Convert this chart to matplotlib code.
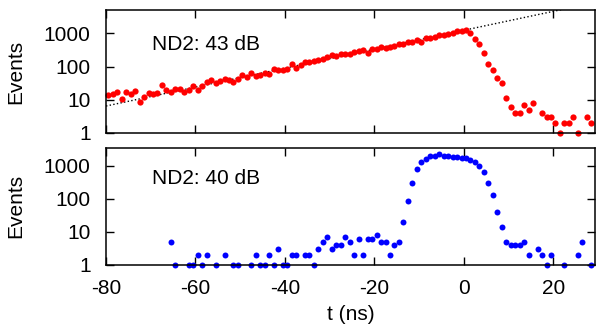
import numpy as np
import matplotlib
matplotlib.use("Agg")
import matplotlib.pyplot as plt
from matplotlib.ticker import LogLocator, NullFormatter

plt.rcParams['font.family'] = ['Liberation Sans', 'DejaVu Sans']
plt.rcParams['font.size'] = 15

# top panel: ND2 43 dB (red)
t_red = [-79.5 + k for k in range(96)] + [17.5, 18.5, 19.5, 20.5, 21.5, 22.5, 23.5, 24.5, 25.5, 27.5, 28.5]
n_red = [14, 15, 17, 10.5, 17, 14.5, 18, 8.7, 11.7, 15.5,
         15, 15.5, 27.5, 19.5, 17.4, 20.4, 21.4, 16.6, 19.5, 25.7,
         19.5, 25.7, 34, 39, 31, 36, 42, 39, 35, 43,
         55, 49, 62, 51, 55, 65, 59, 87, 81, 81,
         87, 115, 91, 110, 138, 138, 148, 162, 174, 195,
         219, 204, 234, 245, 234, 269, 295,
         309, 263, 347, 331, 389, 372, 389, 417, 490, 490,
         550, 550, 617, 550, 724, 724, 776, 871, 912, 977,
         1050, 1150, 1175, 1230, 1050, 692, 468, 263, 115, 78,
         46, 32, 11.5, 6, 4, 4, 7, 5, 8,
         4, 3, 3, 2, 1, 2, 2, 3, 1, 3, 2]
n_red = n_red[:len(t_red) - 11] + n_red[-11:]
t_red = t_red[:len(n_red) - 11] + t_red[-11:]

# exponential fit (dotted): log10(N) = fit_a + fit_b * t
fit_a = 3.09
fit_b = 0.0285

# bottom panel: ND2 40 dB (blue)
t_blue = [-65.5, -64.5, -61.5, -60.5, -59.5, -58.5, -57.5, -55.5, -53.5, -51.5,
          -50.5, -47.5, -46.5, -45.5, -44.5, -43.5, -42.5, -41.5, -40.5, -39.5,
          -38.5, -37.5, -35.5, -34.5, -33.5, -32.5, -31.5, -30.5, -29.5, -28.5,
          -27.5, -26.5, -25.5, -24.5, -23.5, -22.5, -21.5, -20.5, -19.5, -18.5,
          -17.5, -16.5, -15.5, -14.5, -13.5, -12.5, -11.5, -10.5, -9.5, -8.5,
          -7.5, -6.5, -5.5, -4.5, -3.5, -2.5, -1.5, -0.5, 0.5, 1.5,
          2.5, 3.5, 4.5, 5.5, 6.5, 7.5, 8.5, 9.5, 10.5, 11.5,
          12.5, 13.5, 14.5, 16.5, 17.5, 18.5, 19.5, 22.5, 25.5, 26.5, 28.5]
n_blue = [5, 1, 1, 1, 2, 1, 2, 1, 2, 1,
          1, 1, 2, 1, 1, 2, 1, 3, 1, 1,
          2, 2, 2, 2, 1, 3, 5, 7, 3, 4,
          4, 7, 5, 2, 6, 2, 6, 6, 8, 5,
          5, 2, 4, 5, 20, 87, 310, 810, 1290, 1620,
          2000, 2050, 2250, 2000, 2000, 1900, 1900, 1780, 1700, 1520,
          1350, 1020, 630, 300, 132, 41, 14.5, 5, 4, 4,
          4, 5, 2, 3, 2, 1, 2, 1, 2, 5, 1]

xticks = [-80, -60, -40, -20, 0, 20]

fig = plt.figure(figsize=(5.99, 3.25), dpi=100)
ax1 = fig.add_axes([0.177, 0.591, 0.816, 0.378])
ax2 = fig.add_axes([0.177, 0.185, 0.816, 0.36])

tf = np.linspace(-80, 30, 200)
ax1.plot(tf, 10 ** (fit_a + fit_b * tf), ':', color='black', lw=1.0)
ax1.plot(t_red, n_red, 'o', color='#ff0000', ms=4.5, mec='none', clip_on=False)
ax2.plot(t_blue, n_blue, 'o', color='#0000ff', ms=4.3, mec='none', clip_on=False)

ax1.text(0.094, 0.72, 'ND2: 43 dB', transform=ax1.transAxes, va='center')
ax2.text(0.094, 0.74, 'ND2: 40 dB', transform=ax2.transAxes, va='center')

for ax, top in [(ax1, 5000), (ax2, 3500)]:
    ax.set_yscale('log')
    ax.set_xlim(-80, 29.3)
    ax.set_ylim(1, top)
    ax.set_yticks([1, 10, 100, 1000])
    ax.set_yticklabels(['1', '10', '100', '1000'])
    ax.yaxis.set_minor_locator(LogLocator(base=10, subs=np.arange(2, 10)))
    ax.yaxis.set_minor_formatter(NullFormatter())
    ax.set_xticks(xticks)
    ax.tick_params(which='both', direction='in', top=True, right=True, width=1.0)
    ax.tick_params(which='major', length=6)
    ax.tick_params(which='minor', length=3.5)
    ax.tick_params(axis='y', which='major', pad=11)
    ax.tick_params(axis='x', which='major', pad=10)
    ax.set_ylabel('Events')
    ax.yaxis.set_label_coords(-0.166, 0.5)
    for s in ax.spines.values():
        s.set_linewidth(1.1)

ax1.set_xticklabels([])
ax2.set_xticklabels([str(x) for x in xticks])
ax2.set_xlabel('t (ns)')
ax2.xaxis.set_label_coords(0.5, -0.34)

fig.savefig('out.png', dpi=100)
